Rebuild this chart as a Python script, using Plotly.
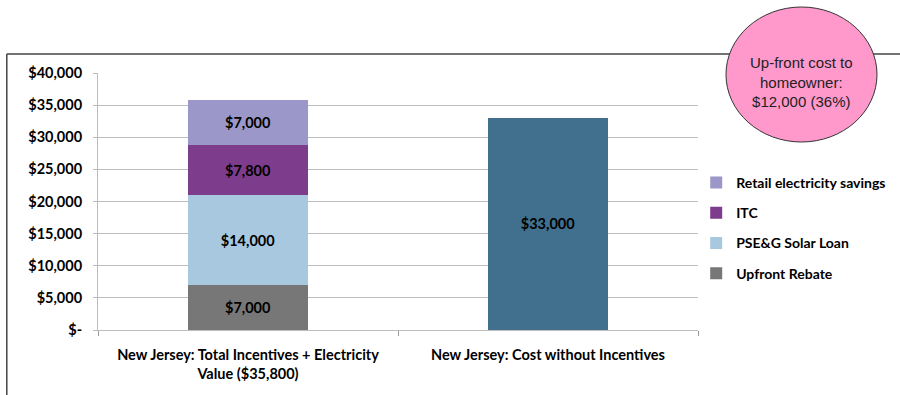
import plotly.graph_objects as go

categories = ["New Jersey: Total Incentives + Electricity<br>Value ($35,800)",
              "New Jersey: Cost without Incentives"]
series_names = ["Upfront Rebate", "PSE&G Solar Loan", "ITC", "Retail electricity savings"]
upfront_rebate = [7000, None]
solar_loan = [14000, None]
itc = [7800, None]
retail_savings = [7000, None]
cost_without = [None, 33000]
colors = ["#777777", "#A8C8E0", "#7E3D8C", "#9B98C9"]
cost_color = "#41708F"
y_ticks = [0, 5000, 10000, 15000, 20000, 25000, 30000, 35000, 40000]
y_ticktext = ["$-", "$5,000", "$10,000", "$15,000", "$20,000", "$25,000", "$30,000", "$35,000", "$40,000"]
callout_text = "Up-front cost to<br>homeowner:<br>$12,000 (36%)"

bold = dict(family="Lato", size=14.5, color="black", weight="bold")
legend_font = dict(family="Lato", size=14, color="black", weight="bold")


def labels(vals):
    return [f"${v:,.0f}" if v is not None else "" for v in vals]


fig = go.Figure()
ranks = [4, 3, 2, 1]
for name, vals, col, rk in zip(series_names, [upfront_rebate, solar_loan, itc, retail_savings], colors, ranks):
    fig.add_trace(go.Bar(
        x=categories, y=vals, name=name, marker_color=col, marker_line_width=0,
        text=labels(vals), textposition="inside", textangle=0,
        insidetextanchor="middle", textfont=bold, insidetextfont=bold,
        legendgroup=name, legendrank=rk, width=0.4))
fig.add_trace(go.Bar(
    x=categories, y=cost_without, name="Cost", marker_color=cost_color, marker_line_width=0,
    text=labels(cost_without), textposition="inside", textangle=0,
    insidetextanchor="middle", textfont=bold, insidetextfont=bold,
    showlegend=False, width=0.4))

fig.update_layout(
    barmode="stack",
    width=900, height=395,
    margin=dict(l=98, r=202, t=73, b=65, autoexpand=False),
    paper_bgcolor="white", plot_bgcolor="white",
    legend=dict(x=0.997, xanchor="left", y=0.397, yanchor="middle",
                traceorder="grouped", tracegroupgap=9,
                font=legend_font, itemwidth=30, bgcolor="rgba(0,0,0,0)"),
)
fig.update_yaxes(range=[0, 40000], tickvals=y_ticks, ticktext=y_ticktext,
                 tickfont=bold, showgrid=True, gridcolor="#BDBDBD", gridwidth=1,
                 showline=True, linecolor="#BDBDBD", ticks="outside", ticklen=4,
                 tickcolor="#BDBDBD", ticklabelstandoff=8, zeroline=False)
fig.update_xaxes(tickfont=bold, showline=True, linecolor="#BDBDBD", ticks="outside",
                 tickson="boundaries", ticklen=5, tickcolor="#999999", showgrid=False,
                 ticklabelstandoff=12)

# frame lines
fig.add_shape(type="line", xref="paper", yref="paper", x0=-0.152, x1=1.34, y0=1.074, y1=1.074,
              line=dict(color="#444444", width=1.5), layer="below")
fig.add_shape(type="line", xref="paper", yref="paper", x0=-0.152, x1=-0.152, y0=1.074, y1=-0.3,
              line=dict(color="#444444", width=1.5), layer="below")
# pink callout
fig.add_shape(type="circle", xref="paper", yref="paper",
              x0=(726-98)/600, x1=(877-98)/600, y0=(330-142)/257, y1=(330-7)/257,
              fillcolor="#FF99CC", line=dict(color="#333333", width=1))
fig.add_annotation(xref="paper", yref="paper", x=(801.5-98)/600, y=(330-82)/257,
                   xanchor="center", yanchor="middle",
                   text=callout_text, showarrow=False,
                   font=dict(family="Liberation Sans", size=15, color="#222222"))

fig.write_html("out.html")
